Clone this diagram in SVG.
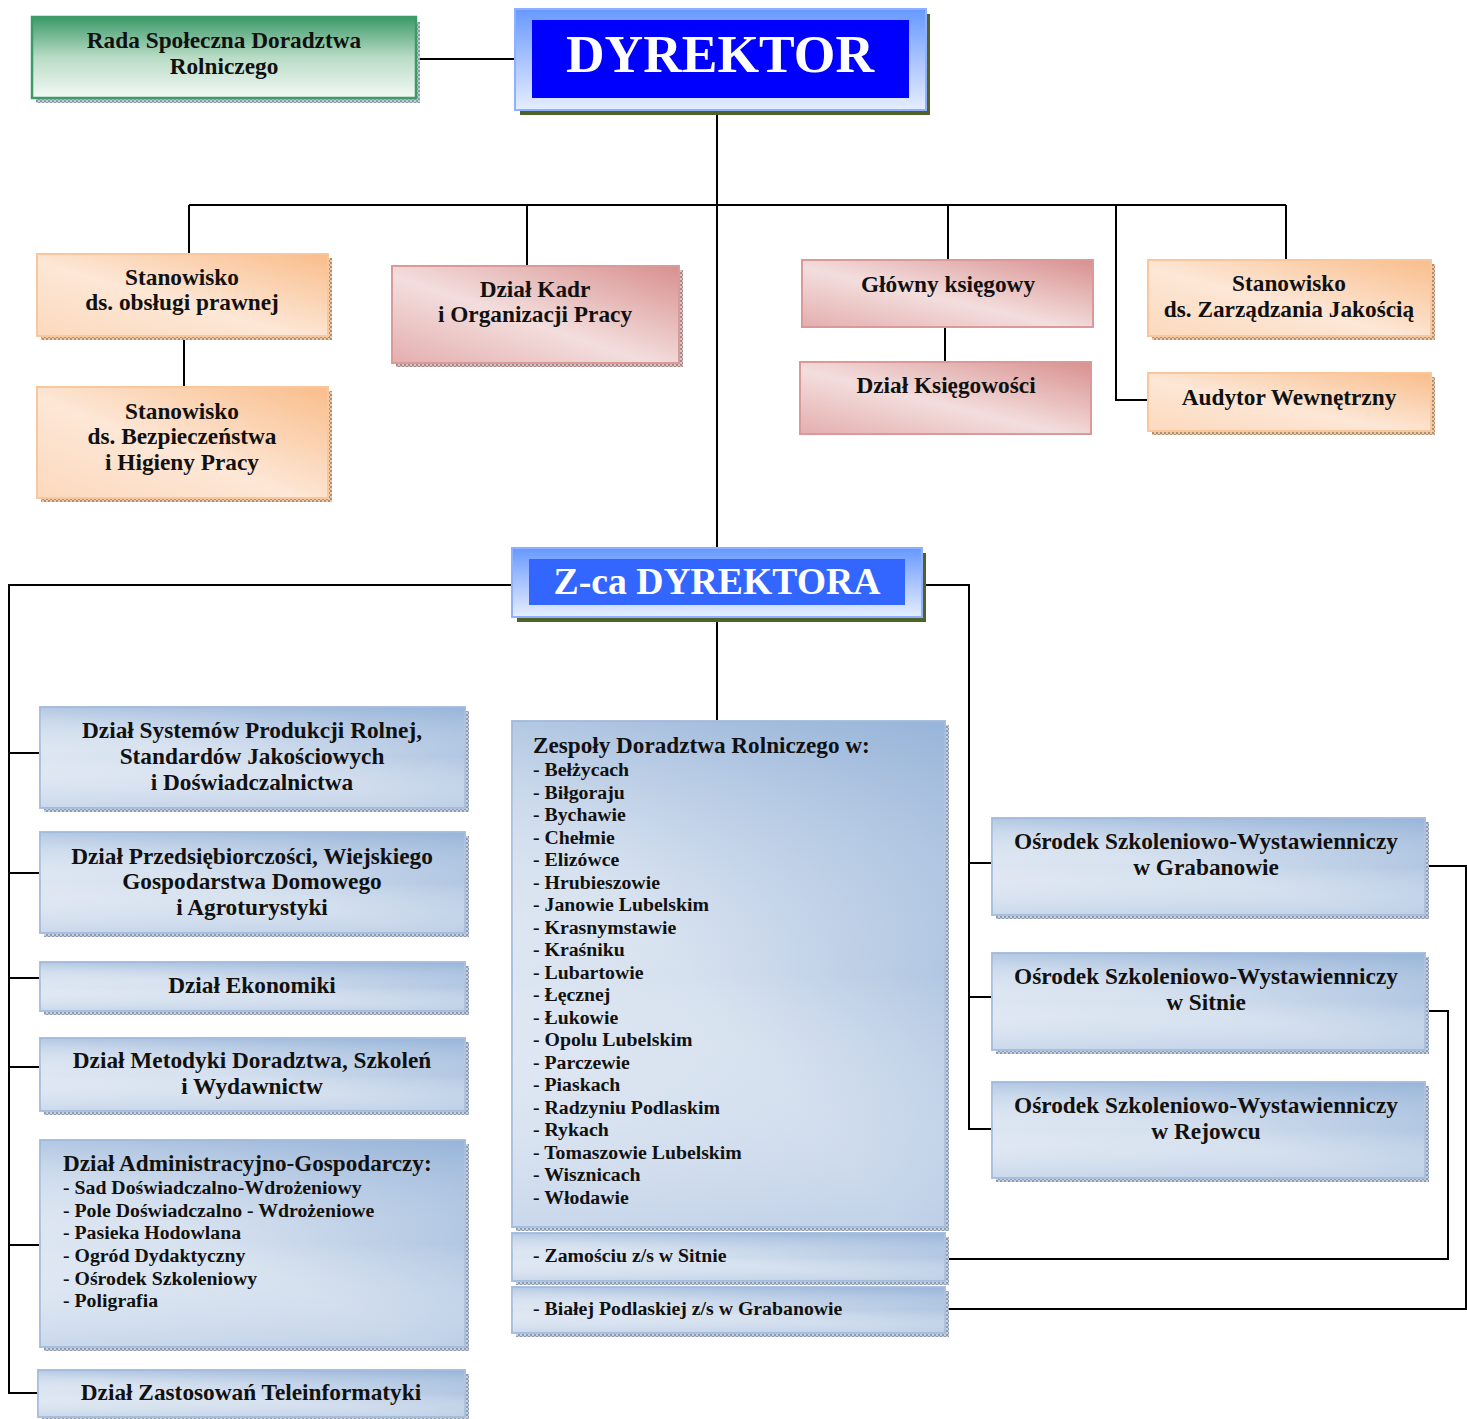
<svg xmlns="http://www.w3.org/2000/svg" width="1467" height="1419" viewBox="0 0 1467 1419">
<defs>
<linearGradient id="gBlue" x1="1" y1="0" x2="0" y2="1">
<stop offset="0" stop-color="#93b1d7"/>
<stop offset="0.55" stop-color="#d6e1ef"/>
<stop offset="1" stop-color="#e3eaf4"/>
</linearGradient>
<linearGradient id="gBlueV" x1="0" y1="0" x2="0" y2="1">
<stop offset="0" stop-color="#9ab6da" stop-opacity="0.55"/>
<stop offset="0.5" stop-color="#ffffff" stop-opacity="0"/>
<stop offset="1" stop-color="#9ab6da" stop-opacity="0.35"/>
</linearGradient>
<linearGradient id="gOrange" x1="1" y1="0" x2="0" y2="1">
<stop offset="0" stop-color="#f9bd8b"/>
<stop offset="0.55" stop-color="#fde7d6"/>
<stop offset="1" stop-color="#fcd9bd"/>
</linearGradient>
<linearGradient id="gPink" x1="1" y1="0" x2="0" y2="1">
<stop offset="0" stop-color="#d8908f"/>
<stop offset="0.55" stop-color="#f3dedd"/>
<stop offset="1" stop-color="#e4aeae"/>
</linearGradient>
<linearGradient id="gGreen" x1="0" y1="0" x2="0" y2="1">
<stop offset="0" stop-color="#3b9a68"/>
<stop offset="0.5" stop-color="#b9dcc6"/>
<stop offset="1" stop-color="#f3f9f5"/>
</linearGradient>
<linearGradient id="gDir" x1="0" y1="0" x2="0" y2="1">
<stop offset="0" stop-color="#6699ff"/>
<stop offset="0.5" stop-color="#a9c3ff"/>
<stop offset="1" stop-color="#e6eeff"/>
</linearGradient>
<pattern id="pBlue" width="4" height="4" patternUnits="userSpaceOnUse">
<rect width="4" height="4" fill="#c7d0dc"/>
<rect width="2" height="2" fill="#8e9bb0"/>
<rect x="2" y="2" width="2" height="2" fill="#8e9bb0"/>
</pattern>
<pattern id="pOrange" width="4" height="4" patternUnits="userSpaceOnUse">
<rect width="4" height="4" fill="#e3cbb5"/>
<rect width="2" height="2" fill="#b88d6a"/>
<rect x="2" y="2" width="2" height="2" fill="#b88d6a"/>
</pattern>
<pattern id="pPink" width="4" height="4" patternUnits="userSpaceOnUse">
<rect width="4" height="4" fill="#d9c3c3"/>
<rect width="2" height="2" fill="#a88888"/>
<rect x="2" y="2" width="2" height="2" fill="#a88888"/>
</pattern>
<pattern id="pGreen" width="4" height="4" patternUnits="userSpaceOnUse">
<rect width="4" height="4" fill="#c5cdd6"/>
<rect width="2" height="2" fill="#8c9aaa"/>
<rect x="2" y="2" width="2" height="2" fill="#8c9aaa"/>
</pattern>
</defs>
<style>
text{font-family:"Liberation Serif","Times New Roman",serif;font-weight:bold;fill:#111;}
.c{text-anchor:middle;font-size:23.3px;}
.h{font-size:23.2px;}
.li{font-size:19.8px;}
.blue{fill:url(#gBlue);stroke:#a9c0df;stroke-width:2;}
.blueo{fill:url(#gBlueV);}
.orange{fill:url(#gOrange);stroke:#fac79c;stroke-width:2;}
.pink{fill:url(#gPink);stroke:#da9a9a;stroke-width:2;}
.green{fill:url(#gGreen);stroke:#3d9b68;stroke-width:2.5;}
.shB{fill:url(#pBlue);}
.shO{fill:url(#pOrange);}
.shP{fill:url(#pPink);}
.shG{fill:url(#pGreen);}
.con{fill:none;stroke:#000;stroke-width:2;}
.big{fill:#fff;text-anchor:middle;}
</style>

<g id="connectors">
<path class="con" d="M416 59H515"/>
<path class="con" d="M717 110V548"/>
<path class="con" d="M189 205H1286"/>
<path class="con" d="M189 205V254"/>
<path class="con" d="M527 205V266"/>
<path class="con" d="M948 205V260"/>
<path class="con" d="M1286 205V260"/>
<path class="con" d="M1116 205V400H1148"/>
<path class="con" d="M184 336V387"/>
<path class="con" d="M945 327V362"/>
<path class="con" d="M512 585H9V1393H38"/>
<path class="con" d="M9 753H40M9 873H40M9 978H40M9 1067H40M9 1245H40"/>
<path class="con" d="M717 617V721"/>
<path class="con" d="M922 585H969V1129H992"/>
<path class="con" d="M969 863H992M969 997H992"/>
<path class="con" d="M1425 866H1466V1309H945"/>
<path class="con" d="M1425 1011H1448V1259H945"/>
</g>

<g id="rada">
<rect class="shG" x="36" y="22" width="384" height="81"/>
<rect class="green" x="32" y="17" width="384" height="81"/>
<text class="c" x="224" y="48">Rada Społeczna Doradztwa</text>
<text class="c" x="224" y="74">Rolniczego</text>
</g>

<g id="dyrektor">
<rect x="520" y="14" width="410" height="101" fill="#4f6228"/>
<rect x="515" y="9" width="411" height="101" fill="url(#gDir)" stroke="#8fb0ff" stroke-width="2"/>
<rect x="532" y="20" width="377" height="78" fill="#0000ff"/>
<text class="big" x="720" y="72" font-size="53" textLength="308" lengthAdjust="spacingAndGlyphs">DYREKTOR</text>
</g>

<g id="prawna">
<rect class="shO" x="41" y="258" width="291" height="82"/>
<rect class="orange" x="37" y="254" width="291" height="82"/>
<text class="c" x="182" y="285">Stanowisko</text>
<text class="c" x="182" y="310">ds. obsługi prawnej</text>
</g>

<g id="bhp">
<rect class="shO" x="41" y="391" width="291" height="111"/>
<rect class="orange" x="37" y="387" width="291" height="111"/>
<text class="c" x="182" y="419">Stanowisko</text>
<text class="c" x="182" y="444">ds. Bezpieczeństwa</text>
<text class="c" x="182" y="470">i Higieny Pracy</text>
</g>

<g id="kadry">
<rect class="shP" x="396" y="270" width="287" height="97"/>
<rect class="pink" x="392" y="266" width="287" height="97"/>
<text class="c" x="535" y="297">Dział Kadr</text>
<text class="c" x="535" y="322">i Organizacji Pracy</text>
</g>

<g id="ksiegowy">
<rect class="pink" x="802" y="260" width="291" height="67"/>
<text class="c" x="948" y="292">Główny księgowy</text>
</g>

<g id="ksiegowosc">
<rect class="pink" x="800" y="362" width="291" height="72"/>
<text class="c" x="946" y="393">Dział Księgowości</text>
</g>

<g id="jakosc">
<rect class="shO" x="1152" y="264" width="283" height="76"/>
<rect class="orange" x="1148" y="260" width="283" height="76"/>
<text class="c" x="1289" y="291">Stanowisko</text>
<text class="c" x="1289" y="317">ds. Zarządzania Jakością</text>
</g>

<g id="audytor">
<rect class="shO" x="1152" y="377" width="283" height="58"/>
<rect class="orange" x="1148" y="373" width="283" height="58"/>
<text class="c" x="1289" y="405">Audytor Wewnętrzny</text>
</g>

<g id="zca">
<rect x="517" y="553" width="409" height="69" fill="#4f6228"/>
<rect x="512" y="548" width="410" height="69" fill="url(#gDir)" stroke="#8fb0ff" stroke-width="2"/>
<rect x="529" y="559" width="376" height="46" fill="#3366ff"/>
<text class="big" x="717" y="594" font-size="38" textLength="327" lengthAdjust="spacingAndGlyphs">Z-ca DYREKTORA</text>
</g>

<g id="systemow">
<rect class="shB" x="44" y="711" width="425" height="101"/>
<rect class="blue" x="40" y="707" width="425" height="101"/>
<rect class="blueo" x="40" y="707" width="425" height="101"/>
<text class="c" x="252" y="738">Dział Systemów Produkcji Rolnej,</text>
<text class="c" x="252" y="764">Standardów Jakościowych</text>
<text class="c" x="252" y="790">i Doświadczalnictwa</text>
</g>

<g id="przedsiebiorczosci">
<rect class="shB" x="44" y="836" width="425" height="101"/>
<rect class="blue" x="40" y="832" width="425" height="101"/>
<rect class="blueo" x="40" y="832" width="425" height="101"/>
<text class="c" x="252" y="864">Dział Przedsiębiorczości, Wiejskiego</text>
<text class="c" x="252" y="889">Gospodarstwa Domowego</text>
<text class="c" x="252" y="915">i Agroturystyki</text>
</g>

<g id="ekonomiki">
<rect class="shB" x="44" y="966" width="425" height="49"/>
<rect class="blue" x="40" y="962" width="425" height="49"/>
<rect class="blueo" x="40" y="962" width="425" height="49"/>
<text class="c" x="252" y="993">Dział Ekonomiki</text>
</g>

<g id="metodyki">
<rect class="shB" x="44" y="1042" width="425" height="73"/>
<rect class="blue" x="40" y="1038" width="425" height="73"/>
<rect class="blueo" x="40" y="1038" width="425" height="73"/>
<text class="c" x="252" y="1068">Dział Metodyki Doradztwa, Szkoleń</text>
<text class="c" x="252" y="1094">i Wydawnictw</text>
</g>

<g id="administracyjny">
<rect class="shB" x="44" y="1144" width="425" height="207"/>
<rect class="blue" x="40" y="1140" width="425" height="207"/>
<rect class="blueo" x="40" y="1140" width="425" height="207"/>
<text class="h" x="63" y="1171">Dział Administracyjno-Gospodarczy:</text>
<text class="li" x="63" y="1194">- Sad Doświadczalno-Wdrożeniowy</text>
<text class="li" x="63" y="1217">- Pole Doświadczalno - Wdrożeniowe</text>
<text class="li" x="63" y="1239">- Pasieka Hodowlana</text>
<text class="li" x="63" y="1262">- Ogród Dydaktyczny</text>
<text class="li" x="63" y="1285">- Ośrodek Szkoleniowy</text>
<text class="li" x="63" y="1307">- Poligrafia</text>
</g>

<g id="teleinformatyki">
<rect class="shB" x="42" y="1374" width="427" height="47"/>
<rect class="blue" x="38" y="1370" width="427" height="47"/>
<rect class="blueo" x="38" y="1370" width="427" height="47"/>
<text class="c" x="251" y="1400">Dział Zastosowań Teleinformatyki</text>
</g>

<g id="zespoly">
<rect class="shB" x="516" y="725" width="433" height="506"/>
<rect class="blue" x="512" y="721" width="433" height="506"/>
<rect class="blueo" x="512" y="721" width="433" height="506"/>
<text class="h" x="533" y="753">Zespoły Doradztwa Rolniczego w:</text>
<text class="li" x="533" y="776">- Bełżycach</text>
<text class="li" x="533" y="799">- Biłgoraju</text>
<text class="li" x="533" y="821">- Bychawie</text>
<text class="li" x="533" y="844">- Chełmie</text>
<text class="li" x="533" y="866">- Elizówce</text>
<text class="li" x="533" y="889">- Hrubieszowie</text>
<text class="li" x="533" y="911">- Janowie Lubelskim</text>
<text class="li" x="533" y="934">- Krasnymstawie</text>
<text class="li" x="533" y="956">- Kraśniku</text>
<text class="li" x="533" y="979">- Lubartowie</text>
<text class="li" x="533" y="1001">- Łęcznej</text>
<text class="li" x="533" y="1024">- Łukowie</text>
<text class="li" x="533" y="1046">- Opolu Lubelskim</text>
<text class="li" x="533" y="1069">- Parczewie</text>
<text class="li" x="533" y="1091">- Piaskach</text>
<text class="li" x="533" y="1114">- Radzyniu Podlaskim</text>
<text class="li" x="533" y="1136">- Rykach</text>
<text class="li" x="533" y="1159">- Tomaszowie Lubelskim</text>
<text class="li" x="533" y="1181">- Wisznicach</text>
<text class="li" x="533" y="1204">- Włodawie</text>
</g>

<g id="zamosc">
<rect class="shB" x="516" y="1237" width="433" height="48"/>
<rect class="blue" x="512" y="1233" width="433" height="48"/>
<rect class="blueo" x="512" y="1233" width="433" height="48"/>
<text class="li" x="533" y="1262">- Zamościu z/s w Sitnie</text>
</g>

<g id="biala">
<rect class="shB" x="516" y="1291" width="433" height="46"/>
<rect class="blue" x="512" y="1287" width="433" height="46"/>
<rect class="blueo" x="512" y="1287" width="433" height="46"/>
<text class="li" x="533" y="1315">- Białej Podlaskiej z/s w Grabanowie</text>
</g>

<g id="grabanow">
<rect class="shB" x="996" y="822" width="433" height="97"/>
<rect class="blue" x="992" y="818" width="433" height="97"/>
<rect class="blueo" x="992" y="818" width="433" height="97"/>
<text class="c" x="1206" y="849">Ośrodek Szkoleniowo-Wystawienniczy</text>
<text class="c" x="1206" y="875">w Grabanowie</text>
</g>

<g id="sitno">
<rect class="shB" x="996" y="957" width="433" height="97"/>
<rect class="blue" x="992" y="953" width="433" height="97"/>
<rect class="blueo" x="992" y="953" width="433" height="97"/>
<text class="c" x="1206" y="984">Ośrodek Szkoleniowo-Wystawienniczy</text>
<text class="c" x="1206" y="1010">w Sitnie</text>
</g>

<g id="rejowiec">
<rect class="shB" x="996" y="1086" width="433" height="96"/>
<rect class="blue" x="992" y="1082" width="433" height="96"/>
<rect class="blueo" x="992" y="1082" width="433" height="96"/>
<text class="c" x="1206" y="1113">Ośrodek Szkoleniowo-Wystawienniczy</text>
<text class="c" x="1206" y="1139">w Rejowcu</text>
</g>
</svg>
